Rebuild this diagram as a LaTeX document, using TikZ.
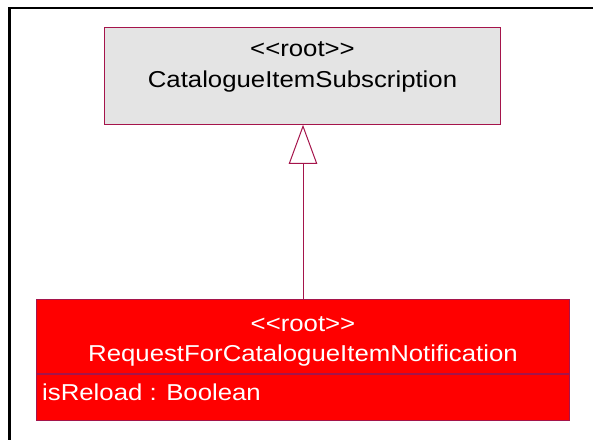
\documentclass[tikz,border=0pt]{standalone}
\usepackage{fontspec}
\usepackage[x11names]{xcolor}
\usepackage{tikz}
\usetikzlibrary{arrows.meta}

\newfontfamily\umlfont[Ligatures=TeXOff, FakeStretch=1.12]{Liberation Sans}
\definecolor{umlborder}{RGB}{165,20,75}
\definecolor{boxgray}{RGB}{228,228,228}

\begin{document}
\begin{tikzpicture}[x=1pt, y=-1pt,
        umlline/.style={draw=umlborder, line width=1pt},
        classbox/.style={umlline, inner sep=0pt},
        umltext/.style={font=\umlfont\fontsize{23}{27}\selectfont, inner sep=0pt}]
    \useasboundingbox (0,0) rectangle (593,440);
            %Frame
        \draw[line width=2.4pt] (593,8) -- (9.5,8) -- (9.5,440);
            %Superclass
        \node[classbox, fill=boxgray, minimum width=395.6pt, minimum height=97pt] (catalogue) at (302.5,75.8) {};
        \node[umltext, anchor=base] (catalogueStereo) at (302.5,56.7) {<<root>>};
        \node[umltext, anchor=base] (catalogueName) at (302.5,87.3) {CatalogueItemSubscription};
            %Subclass
        \node[classbox, fill=red, anchor=north, minimum width=532.6pt, minimum height=74.6pt] (request) at (303,298.7) {};
        \node[classbox, fill=red, anchor=north, minimum width=532.6pt, minimum height=45.7pt] (requestAttrs) at (request.south) {};
        \node[umltext, text=white, anchor=base] (requestStereo) at (303,331) {<<root>>};
        \node[umltext, text=white, anchor=base] (requestName) at (303,361.7) {RequestForCatalogueItemNotification};
        \node[umltext, text=white, anchor=base west] (requestAttr) at (42,400) {isReload : Boolean};
            %Generalization
        \draw[umlline, -{Triangle[open, length=39pt, width=28.4pt]}] (request.north) -- (request.north |- catalogue.south);
    \end{tikzpicture}
\end{document}
